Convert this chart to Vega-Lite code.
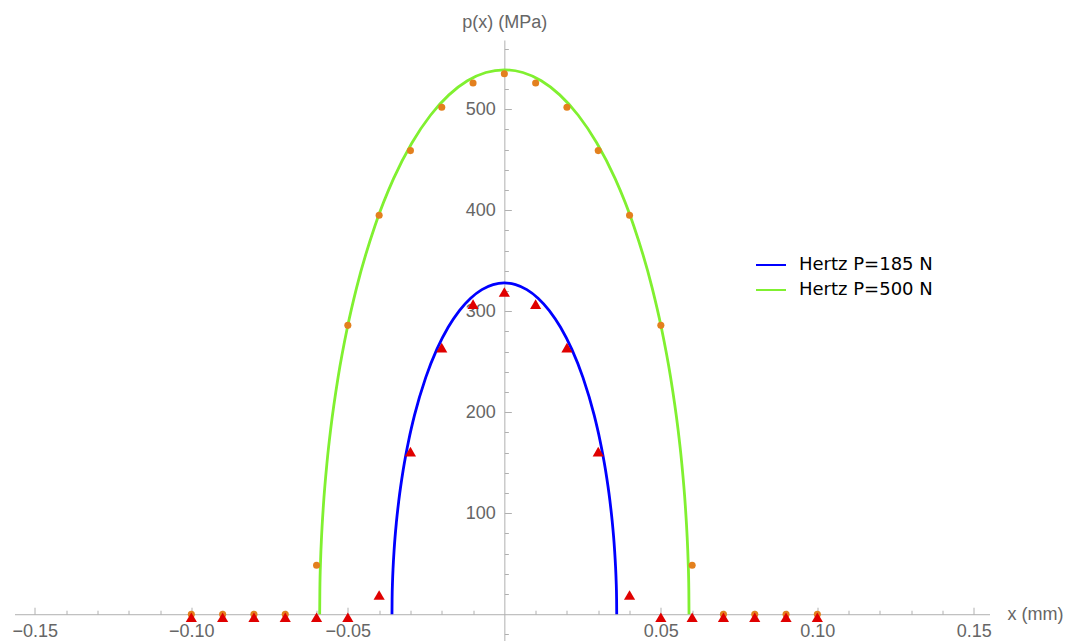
{
  "$schema": "https://vega.github.io/schema/vega-lite/v6.json",
  "width": 975,
  "height": 601,
  "autosize": {"type": "none"},
  "padding": {"left": 14.5, "top": 40, "right": 79.5, "bottom": 0},
  "background": "white",
  "config": {
    "view": {"stroke": null},
    "axis": {
      "grid": false,
      "domainColor": "#b0b0b0",
      "tickColor": "#b0b0b0",
      "labelColor": "#666666",
      "labelFont": "Liberation Sans",
      "labelFontSize": 18,
      "titleFont": "Liberation Sans",
      "titleFontSize": 18,
      "titleFontWeight": "normal",
      "titleColor": "#666666",
      "labelFlush": false,
      "labelOverlap": false
    }
  },
  "datasets": {
    "curves": [
      {"x": -0.0359, "p": 0, "series": "Hertz P=185 N"},
      {"x": -0.035864, "p": 14.66, "series": "Hertz P=185 N"},
      {"x": -0.035721, "p": 32.76, "series": "Hertz P=185 N"},
      {"x": -0.035541, "p": 46.27, "series": "Hertz P=185 N"},
      {"x": -0.035182, "p": 65.27, "series": "Hertz P=185 N"},
      {"x": -0.034464, "p": 91.84, "series": "Hertz P=185 N"},
      {"x": -0.033746, "p": 111.9, "series": "Hertz P=185 N"},
      {"x": -0.03231, "p": 142.97, "series": "Hertz P=185 N"},
      {"x": -0.030515, "p": 172.78, "series": "Hertz P=185 N"},
      {"x": -0.02872, "p": 196.8, "series": "Hertz P=185 N"},
      {"x": -0.02513, "p": 234.24, "series": "Hertz P=185 N"},
      {"x": -0.02154, "p": 262.4, "series": "Hertz P=185 N"},
      {"x": -0.01795, "p": 284.06, "series": "Hertz P=185 N"},
      {"x": -0.01436, "p": 300.62, "series": "Hertz P=185 N"},
      {"x": -0.01077, "p": 312.89, "series": "Hertz P=185 N"},
      {"x": -0.00718, "p": 321.37, "series": "Hertz P=185 N"},
      {"x": -0.00359, "p": 326.36, "series": "Hertz P=185 N"},
      {"x": 0, "p": 328, "series": "Hertz P=185 N"},
      {"x": 0.00359, "p": 326.36, "series": "Hertz P=185 N"},
      {"x": 0.00718, "p": 321.37, "series": "Hertz P=185 N"},
      {"x": 0.01077, "p": 312.89, "series": "Hertz P=185 N"},
      {"x": 0.01436, "p": 300.62, "series": "Hertz P=185 N"},
      {"x": 0.01795, "p": 284.06, "series": "Hertz P=185 N"},
      {"x": 0.02154, "p": 262.4, "series": "Hertz P=185 N"},
      {"x": 0.02513, "p": 234.24, "series": "Hertz P=185 N"},
      {"x": 0.02872, "p": 196.8, "series": "Hertz P=185 N"},
      {"x": 0.030515, "p": 172.78, "series": "Hertz P=185 N"},
      {"x": 0.03231, "p": 142.97, "series": "Hertz P=185 N"},
      {"x": 0.033746, "p": 111.9, "series": "Hertz P=185 N"},
      {"x": 0.034464, "p": 91.84, "series": "Hertz P=185 N"},
      {"x": 0.035182, "p": 65.27, "series": "Hertz P=185 N"},
      {"x": 0.035541, "p": 46.27, "series": "Hertz P=185 N"},
      {"x": 0.035721, "p": 32.76, "series": "Hertz P=185 N"},
      {"x": 0.035864, "p": 14.66, "series": "Hertz P=185 N"},
      {"x": 0.0359, "p": 0, "series": "Hertz P=185 N"},
      {"x": -0.059, "p": 0, "series": "Hertz P=500 N"},
      {"x": -0.058941, "p": 24.1, "series": "Hertz P=500 N"},
      {"x": -0.058705, "p": 53.83, "series": "Hertz P=500 N"},
      {"x": -0.05841, "p": 76.04, "series": "Hertz P=500 N"},
      {"x": -0.05782, "p": 107.26, "series": "Hertz P=500 N"},
      {"x": -0.05664, "p": 150.92, "series": "Hertz P=500 N"},
      {"x": -0.05546, "p": 183.89, "series": "Hertz P=500 N"},
      {"x": -0.0531, "p": 234.94, "series": "Hertz P=500 N"},
      {"x": -0.05015, "p": 283.93, "series": "Hertz P=500 N"},
      {"x": -0.0472, "p": 323.4, "series": "Hertz P=500 N"},
      {"x": -0.0413, "p": 384.92, "series": "Hertz P=500 N"},
      {"x": -0.0354, "p": 431.2, "series": "Hertz P=500 N"},
      {"x": -0.0295, "p": 466.79, "series": "Hertz P=500 N"},
      {"x": -0.0236, "p": 494.0, "series": "Hertz P=500 N"},
      {"x": -0.0177, "p": 514.17, "series": "Hertz P=500 N"},
      {"x": -0.0118, "p": 528.11, "series": "Hertz P=500 N"},
      {"x": -0.0059, "p": 536.3, "series": "Hertz P=500 N"},
      {"x": 0, "p": 539, "series": "Hertz P=500 N"},
      {"x": 0.0059, "p": 536.3, "series": "Hertz P=500 N"},
      {"x": 0.0118, "p": 528.11, "series": "Hertz P=500 N"},
      {"x": 0.0177, "p": 514.17, "series": "Hertz P=500 N"},
      {"x": 0.0236, "p": 494.0, "series": "Hertz P=500 N"},
      {"x": 0.0295, "p": 466.79, "series": "Hertz P=500 N"},
      {"x": 0.0354, "p": 431.2, "series": "Hertz P=500 N"},
      {"x": 0.0413, "p": 384.92, "series": "Hertz P=500 N"},
      {"x": 0.0472, "p": 323.4, "series": "Hertz P=500 N"},
      {"x": 0.05015, "p": 283.93, "series": "Hertz P=500 N"},
      {"x": 0.0531, "p": 234.94, "series": "Hertz P=500 N"},
      {"x": 0.05546, "p": 183.89, "series": "Hertz P=500 N"},
      {"x": 0.05664, "p": 150.92, "series": "Hertz P=500 N"},
      {"x": 0.05782, "p": 107.26, "series": "Hertz P=500 N"},
      {"x": 0.05841, "p": 76.04, "series": "Hertz P=500 N"},
      {"x": 0.058705, "p": 53.83, "series": "Hertz P=500 N"},
      {"x": 0.058941, "p": 24.1, "series": "Hertz P=500 N"},
      {"x": 0.059, "p": 0, "series": "Hertz P=500 N"}
    ],
    "dots": [
      {"x": -0.10, "p": 0}, {"x": -0.09, "p": 0}, {"x": -0.08, "p": 0}, {"x": -0.07, "p": 0},
      {"x": -0.06, "p": 48.5}, {"x": -0.05, "p": 286}, {"x": -0.04, "p": 395}, {"x": -0.03, "p": 459},
      {"x": -0.02, "p": 502}, {"x": -0.01, "p": 526}, {"x": 0, "p": 535}, {"x": 0.01, "p": 526},
      {"x": 0.02, "p": 502}, {"x": 0.03, "p": 459}, {"x": 0.04, "p": 395}, {"x": 0.05, "p": 286},
      {"x": 0.06, "p": 48.5}, {"x": 0.07, "p": 0}, {"x": 0.08, "p": 0}, {"x": 0.09, "p": 0}, {"x": 0.10, "p": 0}
    ],
    "tri": [
      {"x": -0.10, "p": 0}, {"x": -0.09, "p": 0}, {"x": -0.08, "p": 0}, {"x": -0.07, "p": 0},
      {"x": -0.06, "p": 0}, {"x": -0.05, "p": 0}, {"x": -0.04, "p": 22}, {"x": -0.03, "p": 164},
      {"x": -0.02, "p": 267}, {"x": -0.01, "p": 310}, {"x": 0, "p": 322}, {"x": 0.01, "p": 310},
      {"x": 0.02, "p": 267}, {"x": 0.03, "p": 164}, {"x": 0.04, "p": 22}, {"x": 0.05, "p": 0},
      {"x": 0.06, "p": 0}, {"x": 0.07, "p": 0}, {"x": 0.08, "p": 0}, {"x": 0.09, "p": 0}, {"x": 0.10, "p": 0}
    ]
  },
  "resolve": {"axis": {"x": "independent", "y": "independent"}},
  "layer": [
    {
      "data": {"name": "curves"},
      "mark": {"type": "line", "interpolate": "monotone", "clip": true, "strokeWidth": 2.8},
      "encoding": {
        "x": {
          "field": "x", "type": "quantitative",
          "scale": {"domain": [-0.1565, 0.155], "nice": false, "zero": false},
          "axis": {
            "orient": "bottom",
            "offset": -26.77,
            "values": [-0.15, -0.1, -0.05, 0.05, 0.1, 0.15],
            "format": ".2f",
            "tickSize": -7,
            "labelPadding": 15,
            "title": "x (mm)",
            "titleAngle": 0,
            "titleX": 992.5,
            "titleY": 0,
            "titleAlign": "left",
            "titleBaseline": "middle"
          }
        },
        "y": {
          "field": "p", "type": "quantitative",
          "scale": {"domain": [-26.5, 568.5], "nice": false, "zero": false},
          "axis": {
            "orient": "left",
            "offset": -489.85,
            "values": [100, 200, 300, 400, 500],
            "format": "d",
            "tickSize": -7,
            "labelPadding": 16,
            "title": "p(x) (MPa)",
            "titleAngle": 0,
            "titleX": 0,
            "titleY": -13,
            "titleAlign": "center",
            "titleBaseline": "alphabetic"
          }
        },
        "color": {
          "field": "series", "type": "nominal",
          "scale": {"domain": ["Hertz P=185 N", "Hertz P=500 N"], "range": ["#0000ff", "#80f030"]},
          "legend": {
            "orient": "none",
            "legendX": 740.5,
            "legendY": 209,
            "title": null,
            "padding": 0,
            "symbolType": "stroke",
            "symbolSize": 900,
            "symbolStrokeWidth": 2,
            "labelFont": "DejaVu Sans",
            "labelFontSize": 18,
            "labelColor": "#000000",
            "labelOffset": 12,
            "rowPadding": -9
          }
        }
      }
    },
    {
      "data": {"name": "dots"},
      "mark": {"type": "point", "shape": "circle", "filled": true, "size": 50, "opacity": 1, "color": "#e3801e"},
      "encoding": {
        "x": {
          "field": "x", "type": "quantitative",
          "scale": {"domain": [-0.1565, 0.155], "nice": false, "zero": false},
          "axis": {
            "orient": "bottom",
            "offset": -26.77,
            "values": [-0.14, -0.13, -0.12, -0.11, -0.09, -0.08, -0.07, -0.06, -0.04, -0.03, -0.02, -0.01, 0.01, 0.02, 0.03, 0.04, 0.06, 0.07, 0.08, 0.09, 0.11, 0.12, 0.13, 0.14],
            "tickSize": -4,
            "labels": false,
            "domain": false,
            "title": null
          }
        },
        "y": {
          "field": "p", "type": "quantitative",
          "scale": {"domain": [-26.5, 568.5], "nice": false, "zero": false},
          "axis": {
            "orient": "left",
            "offset": -489.85,
            "values": [-20, 20, 40, 60, 80, 120, 140, 160, 180, 220, 240, 260, 280, 320, 340, 360, 380, 420, 440, 460, 480, 520, 540, 560],
            "tickSize": -4,
            "labels": false,
            "domain": false,
            "title": null
          }
        }
      }
    },
    {
      "data": {"name": "tri"},
      "mark": {"type": "point", "shape": "triangle-up", "filled": true, "size": 125, "opacity": 1, "color": "#e00000", "yOffset": 3},
      "encoding": {
        "x": {
          "field": "x", "type": "quantitative",
          "scale": {"domain": [-0.1565, 0.155], "nice": false, "zero": false},
          "axis": null
        },
        "y": {
          "field": "p", "type": "quantitative",
          "scale": {"domain": [-26.5, 568.5], "nice": false, "zero": false},
          "axis": null
        }
      }
    }
  ]
}
